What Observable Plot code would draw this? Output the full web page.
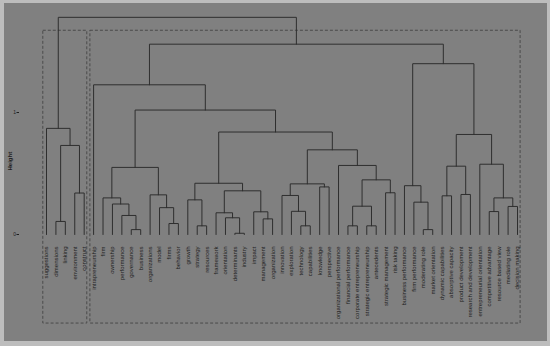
<!DOCTYPE html>
<html><head><meta charset="utf-8">
<script src="https://cdn.jsdelivr.net/npm/d3@7"></script>
<script src="https://cdn.jsdelivr.net/npm/@observablehq/plot@0.6"></script>
<style>
html,body{margin:0;padding:0;background:#bdbdbd;width:550px;height:346px;overflow:hidden;}
#wrap{position:absolute;left:4px;top:3px;width:543px;height:338px;background:#808080;}
</style></head><body><div id="wrap"></div>
<script>
// Leaf labels in dendrogram order
const labels = ["suggestions","dimensions","linking","environment","construct","intrapreneurship","firm","ownership","performance","governance","business","organizations","model","firms","behavior","growth","strategy","resources","framework","orientation","determinants","industry","impact","management","organization","innovation","exploration","technology","capabilities","knowledge","perspective","organizational performance","financial performance","corporate entrepreneurship","strategic entrepreneurship","antecedents","strategic management","risk taking","business performance","firm performance","moderating role","market orientation","dynamic capabilities","absorptive capacity","product development","research and development","entrepreneurial orientation","competitive advantage","resource based view","mediating role","decision making"];

// hclust-style merges: negative = leaf (1-based), positive = earlier merge (1-based)
const mergeLeft  = [-21,-10,-41,-2,-17,-28,-33,-35,-14,-24,-20,-9,-19,-23,-48,-27,-13,-50,7,-8,-40,-16,-7,15,-43,-26,-12,-45,-4,-37,13,-30,-39,26,22,19,23,25,-32,-47,34,4,38,35,-1,37,-6,33,47,45];
const mergeRight = [-22,-11,-42,-3,-18,-29,-34,-36,-15,-25,1,2,11,10,-49,6,9,-51,8,12,3,5,20,18,-44,16,17,-46,-5,-38,14,-31,21,32,31,30,27,28,36,24,39,29,40,41,42,44,46,43,48,49];
const mergeHeight = [0.01,0.04,0.04,0.107,0.071,0.071,0.071,0.071,0.09,0.128,0.137,0.156,0.178,0.186,0.188,0.19,0.22,0.23,0.232,0.25,0.265,0.284,0.30,0.30,0.317,0.32,0.325,0.328,0.34,0.342,0.358,0.39,0.40,0.415,0.42,0.448,0.55,0.56,0.566,0.576,0.694,0.73,0.82,0.84,0.87,1.02,1.227,1.40,1.56,1.78];

const yTicks = [0, 1];
const kClusters = 2;       // rect.hclust clusters
const usrBottom = -0.73;   // lower limit of plot region (R par("usr")[3])

// compute node positions
const nodeX = [], nodeLo = [], nodeHi = [];
function pos(id){ return id < 0 ? {x: -id, h: 0, lo: -id, hi: -id} : {x: nodeX[id-1], h: mergeHeight[id-1], lo: nodeLo[id-1], hi: nodeHi[id-1]}; }
const pts = [];
mergeHeight.forEach((h, j) => {
  const L = pos(mergeLeft[j]), R = pos(mergeRight[j]);
  nodeX[j] = (L.x + R.x) / 2;
  nodeLo[j] = Math.min(L.lo, R.lo); nodeHi[j] = Math.max(L.hi, R.hi);
  pts.push({m: j, x: L.x, y: L.h}, {m: j, x: L.x, y: h}, {m: j, x: R.x, y: h}, {m: j, x: R.x, y: R.h});
});

// clusters for k=2: children of top merge
const sortedH = mergeHeight.slice().sort((a,b)=>b-a);
const rootIdx = mergeHeight.length - 1;
const clusters = [pos(mergeLeft[rootIdx]), pos(mergeRight[rootIdx])].sort((a,b)=>a.lo-b.lo);
const rects = clusters.map(c => ({x1: c.lo - 1 + 0.66, x2: c.hi + 0.33, y1: usrBottom, y2: (sortedH[kClusters-2] + sortedH[kClusters-1]) / 2}));

const chart = Plot.plot({
  width: 543, height: 338,
  marginLeft: 15, marginRight: 0, marginTop: 0, marginBottom: 4,
  style: {background: "transparent", fontFamily: "'Liberation Sans', Arial, sans-serif", color: "#1e1e1e"},
  x: {domain: [1, labels.length], range: [42, 513], axis: null},
  y: {domain: [0, 1], range: [231, 109], axis: null},
  marks: [
    Plot.rect(rects, {x1: "x1", x2: "x2", y1: "y1", y2: "y2", fill: "none", stroke: "#4a4a4a", strokeWidth: 1, strokeDasharray: "3,2"}),
    Plot.line(pts, {x: "x", y: "y", z: "m", stroke: "#2e2e2e", strokeWidth: 1}),
    Plot.text(labels, {x: (d, i) => i + 1, y: () => 0, text: d => d, dy: 12, rotate: -90, textAnchor: "end", fontSize: 6, fill: "#1e1e1e"}),
    Plot.axisY({ticks: yTicks, tickFormat: d => String(d), tickSize: 2.5, tickPadding: 1, fontSize: 5, label: null, stroke: "#1e1e1e"}),
    Plot.text(["Height"], {text: d => d, frameAnchor: "left", dx: -9, rotate: -90, fontSize: 6, fontWeight: "bold", fill: "#1e1e1e"})
  ]
});
document.getElementById("wrap").appendChild(chart);
</script></body></html>
